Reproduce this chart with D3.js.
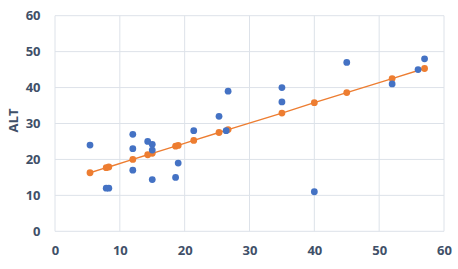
<!DOCTYPE html>
<html><head><meta charset="utf-8">
<script src="https://cdn.jsdelivr.net/npm/d3@7"></script>
<style>body{margin:0;background:#fff;}svg{display:block;}</style>
</head><body>
<svg id="c" width="458" height="269"></svg>
<script>
const obsX = [5.4, 7.9, 8.3, 12, 12, 12, 14.3, 15, 15, 15, 18.6, 19, 21.4, 25.3, 26.4, 26.7, 35, 35, 40, 45, 52, 56, 57];
const obsY = [24, 12, 12, 27, 23, 17, 25, 24.2, 22.6, 14.4, 15, 19, 28, 32, 28, 39, 40, 36, 11, 47, 41, 45, 48];
const fitX = [5.4, 7.9, 8.3, 12, 14.3, 15, 18.6, 19, 21.4, 25.3, 26.7, 35, 40, 45, 52, 57];
const fitY = [16.3, 17.7, 17.9, 20.0, 21.3, 21.7, 23.7, 23.9, 25.3, 27.5, 28.3, 32.9, 35.8, 38.6, 42.5, 45.3];
const xTicks = [0, 10, 20, 30, 40, 50, 60];
const yTicks = [0, 10, 20, 30, 40, 50, 60];
const yTitle = "ALT";
const xTitle = "AST";

const svg = d3.select("#c");
const x = d3.scaleLinear().domain([0, 60]).range([55, 444]);
const y = d3.scaleLinear().domain([0, 60]).range([231.3, 15.7]);
const font = "'Open Sans', 'Liberation Sans', sans-serif";
const txtCol = "#3f5068";
const gridCol = "#dde2e9";

// grid
svg.append("g").selectAll("line").data(yTicks).join("line")
  .attr("x1", x(0)).attr("x2", x(60)).attr("y1", d => y(d)).attr("y2", d => y(d))
  .attr("stroke", gridCol).attr("stroke-width", 1);
svg.append("g").selectAll("line").data(xTicks).join("line")
  .attr("x1", d => x(d)).attr("x2", d => x(d)).attr("y1", y(0)).attr("y2", y(60))
  .attr("stroke", gridCol).attr("stroke-width", 1);

// axes (labels only)
const xAxis = svg.append("g").attr("transform", `translate(0,${y(0)})`)
  .call(d3.axisBottom(x).tickValues(xTicks).tickSize(0).tickPadding(14));
const yAxis = svg.append("g").attr("transform", `translate(${x(0)},0)`)
  .call(d3.axisLeft(y).tickValues(yTicks).tickSize(0).tickPadding(14.5));
[xAxis, yAxis].forEach(a => {
  a.select(".domain").remove();
  a.selectAll("text").attr("fill", txtCol).attr("font-family", font)
    .attr("font-size", 13).attr("font-weight", 700);
});

// titles
svg.append("text").attr("transform", `translate(18,${(y(0)+y(60))/2 - 3}) rotate(-90)`)
  .attr("text-anchor", "middle").attr("fill", txtCol).attr("font-family", font)
  .attr("font-size", 13).attr("font-weight", 700).text(yTitle);
svg.append("text").attr("x", (x(0)+x(60))/2).attr("y", 279)
  .attr("text-anchor", "middle").attr("fill", txtCol).attr("font-family", font)
  .attr("font-size", 13).attr("font-weight", 700).text(xTitle);

// fitted line
const fit = fitX.map((d, i) => [d, fitY[i]]);
svg.append("path").datum(fit)
  .attr("d", d3.line().x(d => x(d[0])).y(d => y(d[1])))
  .attr("fill", "none").attr("stroke", "#ED7D31").attr("stroke-width", 1.4);
svg.append("g").selectAll("circle").data(fit).join("circle")
  .attr("cx", d => x(d[0])).attr("cy", d => y(d[1])).attr("r", 3.4).attr("fill", "#ED7D31");

// observed
const obs = obsX.map((d, i) => [d, obsY[i]]);
svg.append("g").selectAll("circle").data(obs).join("circle")
  .attr("cx", d => x(d[0])).attr("cy", d => y(d[1])).attr("r", 3.4).attr("fill", "#4472C4");
</script>
</body></html>
